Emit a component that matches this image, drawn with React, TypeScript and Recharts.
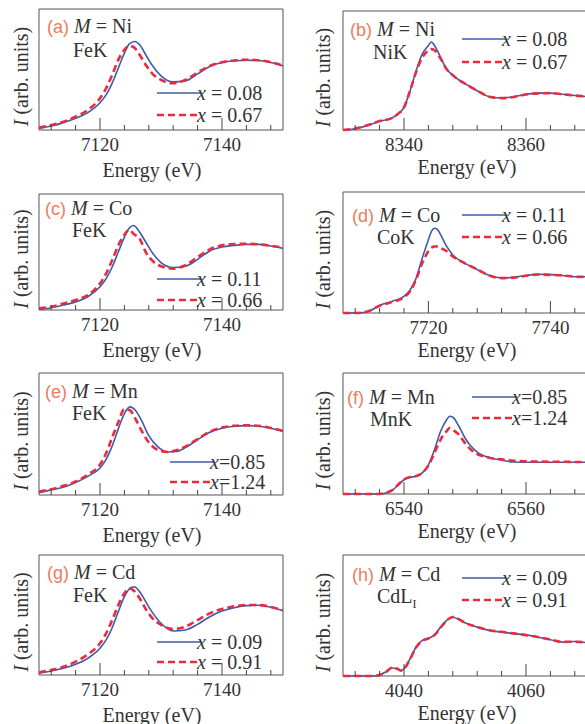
import { LineChart, Line, XAxis, YAxis, ReferenceArea } from "recharts";

// ---- data (intensity normalised to the frame height) ----
const energyA = [7110, 7112, 7114, 7116, 7118, 7120, 7121, 7122, 7123, 7124, 7124.8, 7125.7, 7126.5, 7127.5, 7128.5, 7130, 7132, 7134, 7136, 7138, 7140, 7142, 7144, 7146, 7148, 7150];
const blueA = [0.014, 0.033, 0.061, 0.097, 0.144, 0.225, 0.29, 0.387, 0.511, 0.635, 0.712, 0.732, 0.704, 0.622, 0.539, 0.448, 0.398, 0.406, 0.464, 0.525, 0.558, 0.572, 0.577, 0.575, 0.558, 0.53];
const redA = [0.019, 0.041, 0.069, 0.11, 0.166, 0.262, 0.345, 0.456, 0.58, 0.663, 0.696, 0.677, 0.622, 0.539, 0.47, 0.414, 0.387, 0.414, 0.475, 0.53, 0.56, 0.575, 0.58, 0.577, 0.56, 0.533];

const energyB = [8330, 8332, 8334, 8336, 8338, 8339, 8340, 8341, 8342, 8343, 8344, 8344.5, 8345, 8346, 8347, 8348, 8349, 8350, 8352, 8354, 8356, 8358, 8360, 8362, 8364, 8366, 8368, 8370];
const blueB = [0, 0.01, 0.037, 0.073, 0.1, 0.135, 0.19, 0.33, 0.5, 0.64, 0.71, 0.739, 0.71, 0.61, 0.51, 0.46, 0.42, 0.39, 0.33, 0.28, 0.27, 0.28, 0.3, 0.31, 0.31, 0.3, 0.29, 0.28];
const redB = [0, 0.012, 0.04, 0.075, 0.1, 0.135, 0.19, 0.33, 0.49, 0.61, 0.67, 0.68, 0.67, 0.6, 0.51, 0.46, 0.42, 0.39, 0.33, 0.28, 0.268, 0.278, 0.298, 0.308, 0.31, 0.3, 0.29, 0.28];

const energyC = [7110, 7112, 7114, 7116, 7118, 7120, 7121, 7122, 7123, 7124, 7124.8, 7125.5, 7126.5, 7127.5, 7128.5, 7130, 7132, 7134, 7136, 7138, 7140, 7142, 7144, 7146, 7148, 7150];
const blueC = [0.005, 0.02, 0.043, 0.07, 0.114, 0.2, 0.271, 0.371, 0.5, 0.629, 0.706, 0.729, 0.671, 0.586, 0.5, 0.409, 0.366, 0.377, 0.437, 0.509, 0.543, 0.557, 0.566, 0.566, 0.551, 0.531];
const redC = [0.014, 0.029, 0.055, 0.086, 0.129, 0.229, 0.314, 0.429, 0.557, 0.649, 0.691, 0.657, 0.614, 0.5, 0.429, 0.377, 0.357, 0.386, 0.457, 0.523, 0.557, 0.569, 0.571, 0.566, 0.554, 0.537];

const energyD = [7706, 7708, 7710, 7712, 7714, 7716, 7717, 7718, 7719, 7720, 7720.5, 7721, 7721.5, 7722, 7723, 7724, 7726, 7728, 7730, 7732, 7734, 7736, 7738, 7740, 7742, 7744, 7746];
const blueD = [0, 0, 0.01, 0.063, 0.096, 0.138, 0.19, 0.29, 0.455, 0.606, 0.675, 0.7, 0.69, 0.647, 0.55, 0.48, 0.41, 0.36, 0.31, 0.29, 0.295, 0.31, 0.32, 0.317, 0.31, 0.3, 0.3];
const redD = [0, 0, 0.012, 0.06, 0.09, 0.13, 0.18, 0.28, 0.413, 0.51, 0.54, 0.55, 0.55, 0.537, 0.51, 0.468, 0.41, 0.36, 0.31, 0.288, 0.292, 0.308, 0.318, 0.315, 0.31, 0.3, 0.298];

const energyE = [7110, 7112, 7114, 7116, 7118, 7120, 7121, 7122, 7123, 7124, 7124.9, 7125.8, 7126.8, 7128, 7129.5, 7131, 7132.5, 7134, 7136, 7138, 7140, 7142, 7144, 7146, 7148, 7150];
const blueE = [0.019, 0.042, 0.064, 0.103, 0.153, 0.222, 0.292, 0.403, 0.542, 0.667, 0.722, 0.694, 0.611, 0.486, 0.394, 0.353, 0.356, 0.389, 0.453, 0.514, 0.547, 0.564, 0.569, 0.564, 0.547, 0.522];
const redE = [0.028, 0.047, 0.075, 0.111, 0.167, 0.25, 0.342, 0.472, 0.597, 0.703, 0.694, 0.625, 0.528, 0.431, 0.369, 0.353, 0.367, 0.397, 0.458, 0.519, 0.553, 0.567, 0.572, 0.567, 0.55, 0.525];

const energyF = [6530, 6532, 6534, 6536, 6537, 6538, 6539, 6540, 6541, 6542, 6543, 6544, 6545, 6546, 6547, 6547.5, 6548, 6549, 6550, 6551, 6552, 6554, 6556, 6558, 6560, 6562, 6564, 6566, 6568, 6570];
const blueF = [0, 0, 0, 0, 0.008, 0.028, 0.072, 0.118, 0.138, 0.146, 0.174, 0.24, 0.366, 0.518, 0.614, 0.642, 0.634, 0.56, 0.463, 0.394, 0.347, 0.3, 0.28, 0.264, 0.262, 0.262, 0.262, 0.263, 0.262, 0.262];
const redF = [0, 0, 0, 0, 0.01, 0.03, 0.075, 0.12, 0.14, 0.148, 0.176, 0.235, 0.34, 0.45, 0.52, 0.545, 0.53, 0.49, 0.42, 0.366, 0.33, 0.3, 0.286, 0.275, 0.27, 0.268, 0.266, 0.266, 0.265, 0.265];

const energyG = [7110, 7112, 7114, 7116, 7118, 7120, 7121, 7122, 7123, 7124, 7124.9, 7125.6, 7126.5, 7127.5, 7128.5, 7130, 7132, 7134, 7136, 7138, 7140, 7142, 7144, 7146, 7148, 7150];
const blueG = [0.014, 0.033, 0.056, 0.089, 0.139, 0.222, 0.292, 0.394, 0.528, 0.653, 0.722, 0.736, 0.694, 0.611, 0.528, 0.431, 0.367, 0.375, 0.422, 0.486, 0.533, 0.561, 0.578, 0.581, 0.564, 0.536];
const redG = [0.022, 0.042, 0.069, 0.111, 0.172, 0.264, 0.347, 0.458, 0.583, 0.681, 0.722, 0.7, 0.639, 0.55, 0.478, 0.417, 0.383, 0.403, 0.458, 0.514, 0.55, 0.572, 0.583, 0.583, 0.567, 0.539];

const energyH = [4030, 4032, 4034, 4035, 4036, 4037, 4038, 4039, 4039.5, 4040, 4041, 4042, 4043, 4044, 4045, 4046, 4047, 4048, 4049, 4050, 4052, 4054, 4056, 4058, 4060, 4062, 4064, 4066, 4068, 4070];
const blueH = [0, 0, 0, 0, 0.01, 0.033, 0.066, 0.055, 0.044, 0.06, 0.143, 0.24, 0.294, 0.31, 0.34, 0.404, 0.46, 0.486, 0.467, 0.44, 0.404, 0.376, 0.363, 0.35, 0.34, 0.32, 0.3, 0.28, 0.285, 0.275];
const redH = [0, 0, 0, 0, 0.008, 0.03, 0.068, 0.058, 0.045, 0.058, 0.14, 0.238, 0.29, 0.31, 0.338, 0.4, 0.458, 0.488, 0.47, 0.44, 0.405, 0.378, 0.365, 0.352, 0.338, 0.322, 0.302, 0.282, 0.283, 0.276];

// tick positions (every 4 eV, labelled every 20 eV)
const ticksFe = [7112, 7116, 7120, 7124, 7128, 7132, 7136, 7140, 7144, 7148];
const ticksNi = [8332, 8336, 8340, 8344, 8348, 8352, 8356, 8360, 8364, 8368];
const ticksCo = [7708, 7712, 7716, 7720, 7724, 7728, 7732, 7736, 7740, 7744];
const ticksMn = [6532, 6536, 6540, 6544, 6548, 6552, 6556, 6560, 6564, 6568];
const ticksCd = [4032, 4036, 4040, 4044, 4048, 4052, 4056, 4060, 4064, 4068];

const SERIF = '"Liberation Serif", "Times New Roman", serif';
const SANS = '"Liberation Sans", Arial, sans-serif';
const BLUE = "#3c5ba8";
const RED = "#ec2a3e";
const INK = "#333";
const TAG = "#f07a5c";

const rows = (e: number[], b: number[], r: number[]) =>
  e.map((v, i) => ({ e: v, blue: b[i], red: r[i] }));

type Cfg = {
  tag: string;
  metal: string;
  edge: string;
  sub?: string;
  xs: [string, string];
  data: { e: number; blue: number; red: number }[];
  domain: [number, number];
  ticks: number[];
  majors: number[];
  px: number; // plot left (page px)
  py: number; // plot top
  ph: number; // plot height
  tagPos: [number, number];
  edgePos: [number, number];
  legX: number;
  legY: [number, number];
  right: boolean;
};

const PW = 244;
const ML = 50;
const MT = 12;
const AXH = 56;

const panels: Cfg[] = [
  { tag: "(a)", metal: "Ni", edge: "FeK", xs: ["0.08", "0.67"], data: rows(energyA, blueA, redA), domain: [7110, 7150], ticks: ticksFe, majors: [7120, 7140], px: 39, py: 9, ph: 121, tagPos: [8, 24], edgePos: [34, 48], legX: 118, legY: [84, 106], right: false },
  { tag: "(b)", metal: "Ni", edge: "NiK", xs: ["0.08", "0.67"], data: rows(energyB, blueB, redB), domain: [8330, 8370], ticks: ticksNi, majors: [8340, 8360], px: 343, py: 11, ph: 119, tagPos: [7, 25], edgePos: [30, 48], legX: 119, legY: [28, 51], right: true },
  { tag: "(c)", metal: "Co", edge: "FeK", xs: ["0.11", "0.66"], data: rows(energyC, blueC, redC), domain: [7110, 7150], ticks: ticksFe, majors: [7120, 7140], px: 39, py: 194, ph: 116, tagPos: [6, 21], edgePos: [33, 43], legX: 118, legY: [85, 106], right: false },
  { tag: "(d)", metal: "Co", edge: "CoK", xs: ["0.11", "0.66"], data: rows(energyD, blueD, redD), domain: [7706, 7746], ticks: ticksCo, majors: [7720, 7740], px: 343, py: 192, ph: 121, tagPos: [9, 30], edgePos: [34, 52], legX: 119, legY: [23, 45], right: true },
  { tag: "(e)", metal: "Mn", edge: "FeK", xs: ["0.85", "1.24"], data: rows(energyE, blueE, redE), domain: [7110, 7150], ticks: ticksFe, majors: [7120, 7140], px: 39, py: 373, ph: 122, tagPos: [6, 25], edgePos: [33, 47], legX: 131, legY: [89, 109], right: false },
  { tag: "(f)", metal: "Mn", edge: "MnK", xs: ["0.85", "1.24"], data: rows(energyF, blueF, redF), domain: [6530, 6570], ticks: ticksMn, majors: [6540, 6560], px: 343, py: 373, ph: 121, tagPos: [4, 31], edgePos: [27, 53], legX: 129, legY: [24, 45], right: true },
  { tag: "(g)", metal: "Cd", edge: "FeK", xs: ["0.09", "0.91"], data: rows(energyG, blueG, redG), domain: [7110, 7150], ticks: ticksFe, majors: [7120, 7140], px: 39, py: 555, ph: 120, tagPos: [8, 24], edgePos: [34, 47], legX: 118, legY: [87, 107], right: false },
  { tag: "(h)", metal: "Cd", edge: "CdL", sub: "I", xs: ["0.09", "0.91"], data: rows(energyH, blueH, redH), domain: [4030, 4070], ticks: ticksCd, majors: [4040, 4060], px: 343, py: 555, ph: 121, tagPos: [9, 26], edgePos: [34, 48], legX: 119, legY: [23, 45], right: true },
];

function EnergyTick(props: any) {
  const { x, y, payload, majors } = props;
  const major = majors.includes(payload.value);
  return (
    <g>
      <line x1={x} x2={x} y1={y} y2={y - (major ? 12 : 5)} stroke="#444" strokeWidth={1} />
      {major && (
        <text x={x} y={y + 14} dy="0.35em" textAnchor="middle" fontFamily={SERIF} fontSize={19} fill={INK}>
          {payload.value}
        </text>
      )}
    </g>
  );
}

function Panel({ c }: { c: Cfg }) {
  const W = ML + PW + 10;
  const H = MT + c.ph + AXH;
  const spaced = !c.xs[0].startsWith("0.8");
  const eq = spaced ? " = " : "=";
  return (
    <div style={{ position: "absolute", left: c.px - ML, top: c.py - MT, width: W, height: H }}>
      <LineChart width={W} height={H} data={c.data} margin={{ top: MT, left: ML, right: 10, bottom: 0 }}>
        <XAxis
          dataKey="e"
          type="number"
          domain={c.domain}
          ticks={c.ticks}
          interval={0}
          allowDataOverflow
          axisLine={false}
          tickLine={false}
          tickSize={0}
          tickMargin={0}
          height={AXH}
          tick={(p: any) => <EnergyTick {...p} majors={c.majors} />}
        />
        <YAxis hide domain={[0, 1]} />
        <ReferenceArea x1={c.domain[0]} x2={c.domain[1]} y1={0} y2={1} fill="none" stroke="#555" strokeWidth={1} ifOverflow="visible" />
        <Line type="monotone" dataKey="blue" stroke={BLUE} strokeWidth={1.6} dot={false} isAnimationActive={false} />
        <Line type="monotone" dataKey="red" stroke={RED} strokeWidth={2.6} strokeDasharray="7 4" dot={false} isAnimationActive={false} />
      </LineChart>
      <svg width={W} height={H} style={{ position: "absolute", left: 0, top: 0, overflow: "visible", pointerEvents: "none" }}>
        <text x={ML + c.tagPos[0]} y={MT + c.tagPos[1]} fontFamily={SERIF} fontSize={20} fill={INK}>
          <tspan fontFamily={SANS} fontSize={18} fill={TAG}>{c.tag}</tspan>
          <tspan> </tspan>
          <tspan fontStyle="italic">M</tspan>
          <tspan>{" = " + c.metal}</tspan>
        </text>
        <text x={ML + c.edgePos[0]} y={MT + c.edgePos[1]} fontFamily={SERIF} fontSize={20} fill={INK}>
          {c.edge}
          {c.sub && <tspan fontSize={12} dy={5}>{c.sub}</tspan>}
        </text>
        {c.xs.map((v, i) => (
          <g key={v}>
            <line
              x1={ML + c.legX}
              x2={ML + c.legX + 44}
              y1={MT + c.legY[i]}
              y2={MT + c.legY[i]}
              stroke={i === 0 ? BLUE : RED}
              strokeWidth={i === 0 ? 1.6 : 2.6}
              strokeDasharray={i === 0 ? undefined : "7 4"}
            />
            <text x={ML + c.legX + 40} y={MT + c.legY[i] + 7} fontFamily={SERIF} fontSize={20} fill={INK}>
              <tspan fontStyle="italic">x</tspan>
              <tspan>{eq + v}</tspan>
            </text>
          </g>
        ))}
        <text
          transform={`translate(${ML - (c.right ? 20 : 18)}, ${MT + c.ph / 2 + 7}) rotate(-90)`}
          textAnchor="middle"
          dy="0.35em"
          fontFamily={SERIF}
          fontSize={20}
          fill={INK}
        >
          <tspan fontStyle="italic">I</tspan>
          <tspan> (arb. units)</tspan>
        </text>
        <text
          x={ML + PW / 2 + (c.right ? 2 : -9)}
          y={MT + c.ph + (c.right ? 37 : 40)}
          dy="0.35em"
          textAnchor="middle"
          fontFamily={SERIF}
          fontSize={20}
          fill={INK}
        >
          Energy (eV)
        </text>
      </svg>
    </div>
  );
}

export default function App() {
  return (
    <div style={{ position: "absolute", left: 0, top: 0, width: 585, height: 724, overflow: "hidden", background: "#fff" }}>
      {panels.map((c) => (
        <Panel key={c.tag} c={c} />
      ))}
    </div>
  );
}
